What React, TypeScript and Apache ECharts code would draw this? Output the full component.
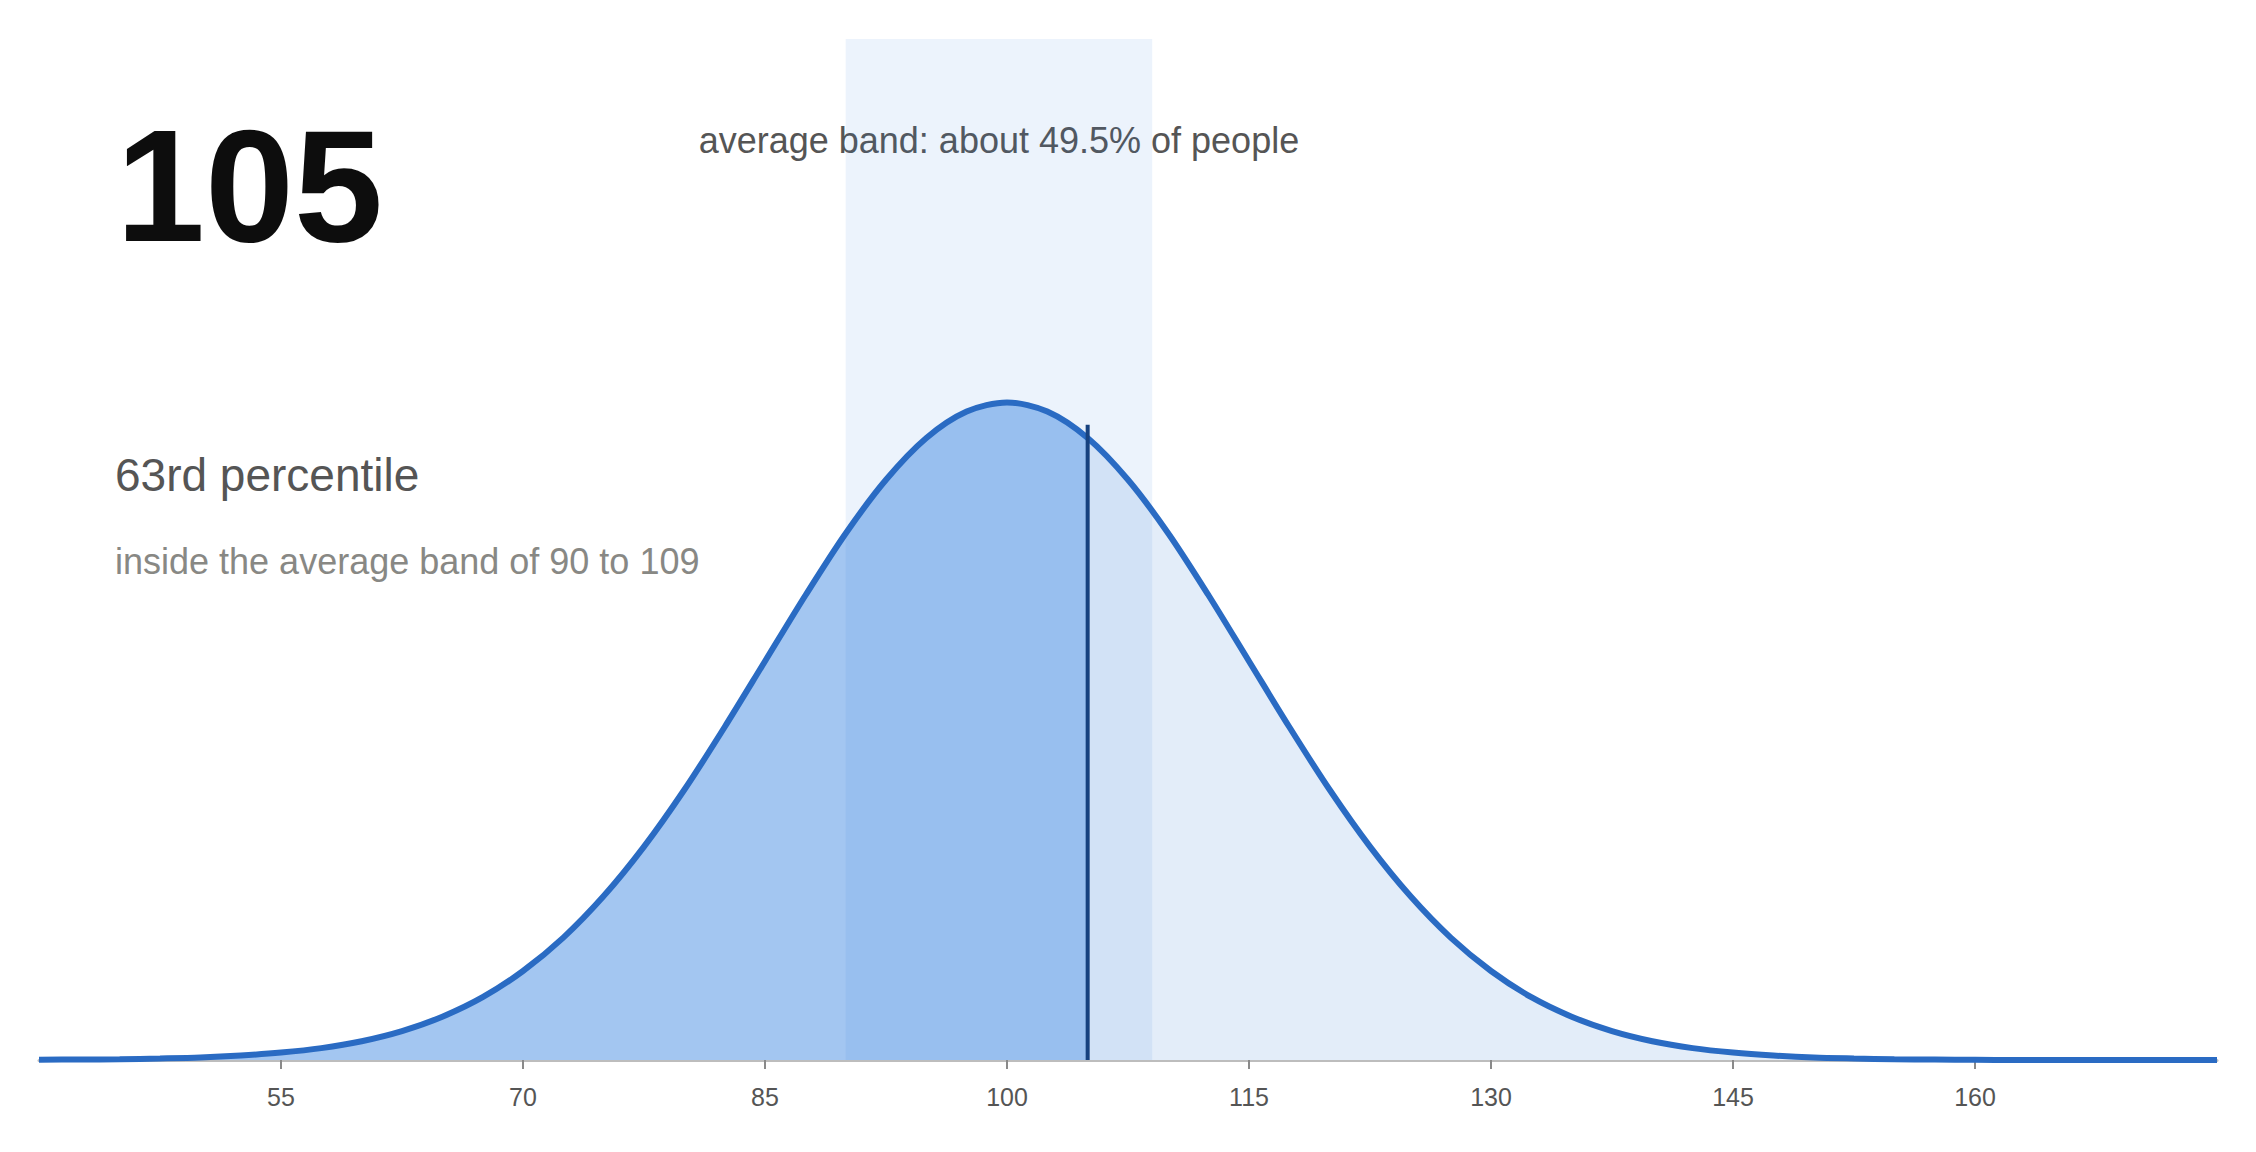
import React, { useEffect, useRef } from 'react'
import * as echarts from 'echarts'
import type { ECharts, EChartsOption } from 'echarts'

// IQ-style score curve
const scoreValues = [
  40, 42.5, 45, 47.5, 50, 52.5, 55, 57.5, 60, 62.5, 65, 67.5, 70, 72.5, 75, 77.5, 80, 82.5, 85,
  87.5, 90, 92.5, 95, 97.5, 100, 102.5, 105, 107.5, 110, 112.5, 115, 117.5, 120, 122.5, 125,
  127.5, 130, 132.5, 135, 137.5, 140, 142.5, 145, 147.5, 150, 152.5, 155, 157.5, 160, 162.5,
  165, 167.5, 170, 172.5, 175,
]
const densityValues = [
  0.00001, 0.00002, 0.00003, 0.00006, 0.0001, 0.00018, 0.0003, 0.00048, 0.00076, 0.00117,
  0.00175, 0.00254, 0.0036, 0.00495, 0.00663, 0.00863, 0.01093, 0.01347, 0.01613, 0.01879,
  0.0213, 0.02347, 0.02516, 0.02623, 0.0266, 0.02623, 0.02516, 0.02347, 0.0213, 0.01879,
  0.01613, 0.01347, 0.01093, 0.00863, 0.00663, 0.00495, 0.0036, 0.00254, 0.00175, 0.00117,
  0.00076, 0.00048, 0.0003, 0.00018, 0.0001, 0.00006, 0.00003, 0.00002, 0.00001, 0, 0, 0, 0,
  0, 0,
]
const tickValues = [55, 70, 85, 100, 115, 130, 145, 160]
const axisRange = [40, 175]
const densityMax = 0.0413
const bandRange = [90, 109]
const score = 105
const markerTop = 0.0257
const headline = '105'
const percentileText = '63rd percentile'
const bandNote = 'inside the average band of 90 to 109'
const bandLabel = 'average band: about 49.5% of people'

const FONT = "'Liberation Sans', Arial, Helvetica, sans-serif"

export default function App() {
  const chartRef = useRef<HTMLDivElement | null>(null)
  const chartInstance = useRef<ECharts | null>(null)

  useEffect(() => {
    const points = scoreValues.map((x, i) => [x, densityValues[i]])
    const leftPoints = points.filter((p) => p[0] <= score)
    const rightPoints = points.filter((p) => p[0] >= score)

    const option: EChartsOption = {
      animation: false,
      grid: { left: 39, right: 39, top: 39, bottom: 92 },
      xAxis: {
        type: 'value',
        min: axisRange[0],
        max: axisRange[1],
        splitLine: { show: false },
        axisLine: { show: true, lineStyle: { color: '#bdbdbd', width: 3 } },
        axisTick: {
          show: true,
          customValues: tickValues,
          length: 9,
          lineStyle: { color: '#8a8a8a', width: 2 },
        },
        axisLabel: {
          customValues: tickValues,
          fontSize: 25,
          color: '#555',
          fontFamily: FONT,
          margin: 24,
        },
      },
      yAxis: {
        type: 'value',
        min: 0,
        max: densityMax,
        show: false,
        splitLine: { show: false },
      },
      series: [
        {
          name: 'below',
          type: 'line',
          data: leftPoints,
          smooth: 0.3,
          symbol: 'none',
          lineStyle: { width: 0 },
          areaStyle: { color: '#a3c6f1', opacity: 1 },
          silent: true,
        },
        {
          name: 'above',
          type: 'line',
          data: rightPoints,
          smooth: 0.3,
          symbol: 'none',
          lineStyle: { width: 0 },
          areaStyle: { color: '#e3edf9', opacity: 1 },
          silent: true,
        },
        {
          name: 'band',
          type: 'line',
          data: [
            [bandRange[0], densityMax],
            [bandRange[1], densityMax],
          ],
          symbol: 'none',
          lineStyle: { width: 0 },
          areaStyle: { color: 'rgba(43,120,220,0.09)', opacity: 1 },
          silent: true,
        },
        {
          name: 'curve',
          type: 'line',
          data: points,
          smooth: 0.3,
          symbol: 'none',
          lineStyle: { color: '#2a6bc3', width: 6 },
          silent: true,
        },
        {
          name: 'score',
          type: 'line',
          data: [
            [score, 0],
            [score, markerTop],
          ],
          symbol: 'none',
          lineStyle: { color: '#17427f', width: 4 },
          silent: true,
        },
      ],
    }

    if (chartRef.current) {
      chartInstance.current = echarts.init(chartRef.current, null, { renderer: 'svg' })
      chartInstance.current.setOption(option)
      const bandCenter = chartInstance.current.convertToPixel(
        { xAxisIndex: 0 },
        (bandRange[0] + bandRange[1]) / 2
      ) as number
      chartInstance.current.setOption({
        graphic: [
          {
            type: 'text',
            x: 116,
            y: 185,
            style: {
              text: headline,
              font: `bold 160px ${FONT}`,
              fill: '#0d0d0d',
              verticalAlign: 'middle',
            },
          },
          {
            type: 'text',
            x: 115,
            y: 475,
            style: {
              text: percentileText,
              font: `46px ${FONT}`,
              fill: '#555',
              verticalAlign: 'middle',
            },
          },
          {
            type: 'text',
            x: 115,
            y: 561,
            style: {
              text: bandNote,
              font: `36px ${FONT}`,
              fill: '#888884',
              verticalAlign: 'middle',
            },
          },
          {
            type: 'text',
            x: bandCenter,
            y: 140,
            style: {
              text: bandLabel,
              font: `36px ${FONT}`,
              fill: '#555',
              align: 'center',
              verticalAlign: 'middle',
            },
          },
        ],
      })
    }

    return () => {
      chartInstance.current?.dispose()
    }
  }, [])

  return (
    <div
      ref={chartRef}
      style={{ position: 'fixed', left: 0, top: 0, width: '2256px', height: '1152px', background: '#fff' }}
    />
  )
}
